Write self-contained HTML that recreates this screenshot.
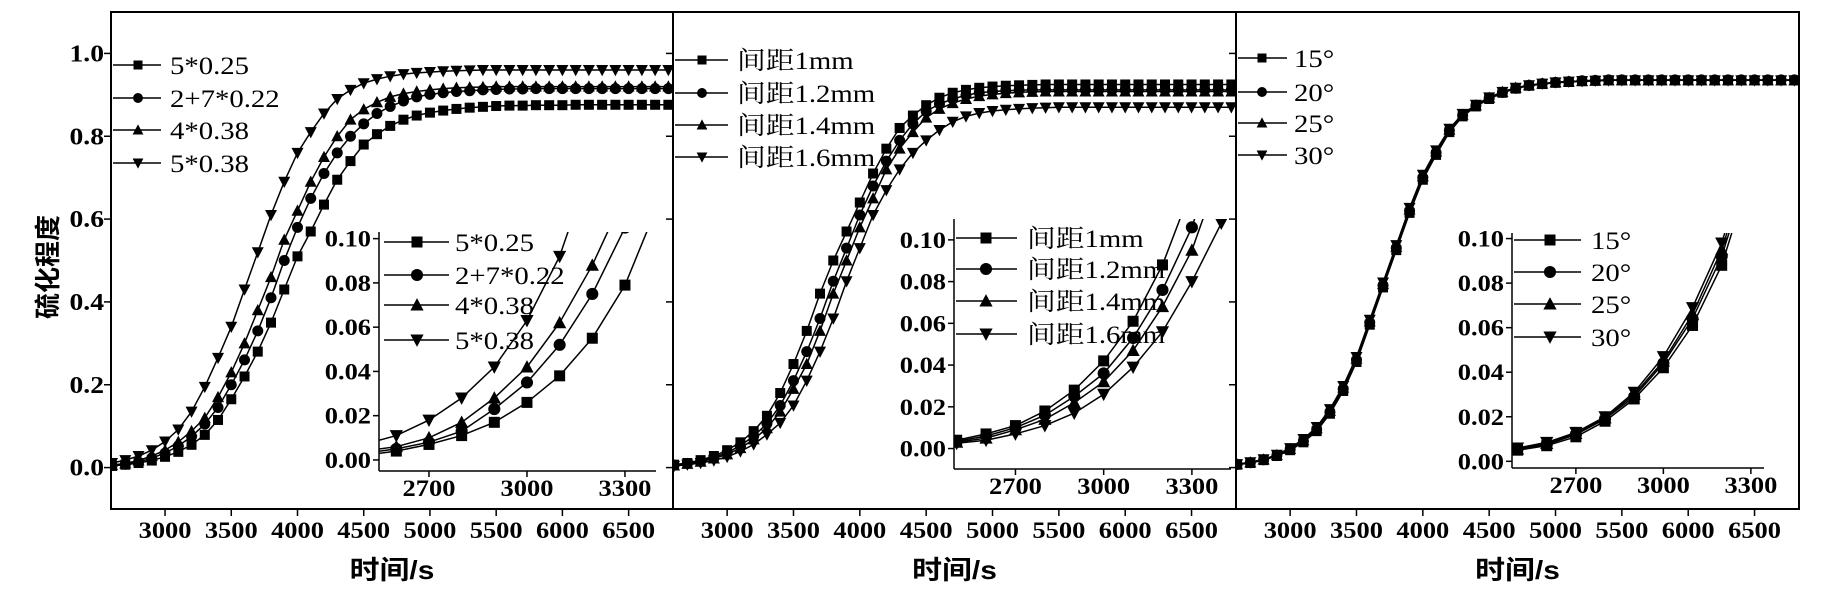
<!DOCTYPE html>
<html><head><meta charset="utf-8"><style>
html,body{margin:0;padding:0;background:#fff;}
svg{display:block;}
</style></head><body>
<svg id="chart" width="1833" height="594" viewBox="0 0 1833 594" xmlns="http://www.w3.org/2000/svg"></svg>
<script>
const times=[2500,2600,2700,2800,2900,3000,3100,3200,3300,3400,3500,3600,3700,3800,3900,4000,4100,4200,4300,4400,4500,4600,4700,4800,4900,5000,5100,5200,5300,5400,5500,5600,5700,5800,5900,6000,6100,6200,6300,6400,6500,6600,6700,6800];
const p1Names=["5*0.25","2+7*0.22","4*0.38","5*0.38"];
const p1A=[.002,.004,.007,.011,.017,.026,.038,.055,.079,.115,.165,.22,.28,.35,.43,.51,.57,.635,.695,.74,.78,.805,.825,.84,.85,.857,.862,.866,.869,.871,.873,.874,.874,.875,.875,.875,.876,.876,.876,.876,.876,.876,.876,.876];
const p1B=[.003,.005,.008,.013,.023,.035,.052,.075,.105,.145,.20,.26,.33,.41,.50,.58,.65,.71,.76,.80,.83,.855,.872,.885,.895,.901,.905,.908,.91,.912,.913,.914,.914,.915,.915,.915,.915,.915,.915,.915,.915,.915,.915,.915];
const p1C=[.004,.006,.010,.017,.028,.042,.062,.088,.12,.17,.23,.30,.38,.46,.55,.62,.69,.75,.80,.84,.865,.882,.895,.903,.908,.912,.915,.917,.918,.919,.92,.92,.92,.92,.92,.92,.92,.92,.92,.92,.92,.92,.92,.92];
const p1D=[.007,.011,.018,.028,.042,.063,.092,.135,.195,.265,.34,.43,.52,.61,.69,.76,.81,.855,.89,.912,.928,.938,.945,.95,.953,.955,.957,.958,.959,.96,.96,.96,.96,.96,.96,.96,.96,.96,.96,.96,.96,.96,.96,.96];
const p2Names=["间距1mm","间距1.2mm","间距1.4mm","间距1.6mm"];
const p2A=[.004,.007,.011,.018,.028,.042,.061,.088,.125,.18,.25,.33,.42,.50,.57,.64,.71,.77,.82,.85,.875,.893,.905,.912,.917,.92,.922,.923,.924,.925,.925,.925,.925,.925,.925,.925,.925,.925,.925,.925,.925,.925,.925,.925];
const p2B=[.0035,.006,.010,.016,.025,.036,.053,.076,.106,.15,.21,.28,.36,.45,.53,.61,.68,.74,.79,.83,.86,.878,.89,.899,.905,.908,.91,.911,.912,.912,.912,.912,.912,.912,.912,.912,.912,.912,.912,.912,.912,.912,.912,.912];
const p2C=[.003,.005,.009,.014,.022,.032,.047,.068,.095,.135,.19,.25,.33,.42,.50,.58,.65,.72,.77,.81,.845,.866,.88,.89,.897,.901,.904,.906,.907,.908,.908,.908,.908,.908,.908,.908,.908,.908,.908,.908,.908,.908,.908,.908];
const p2D=[.0025,.004,.007,.011,.017,.026,.039,.056,.080,.108,.15,.21,.28,.36,.45,.53,.61,.67,.72,.76,.79,.815,.835,.848,.856,.861,.864,.866,.868,.869,.87,.87,.87,.87,.87,.87,.87,.87,.87,.87,.87,.87,.87,.87];
const p3Names=["15°","20°","25°","30°"];
const p3A=[.005,.007,.011,.018,.028,.042,.061,.088,.13,.185,.255,.345,.435,.525,.615,.695,.755,.81,.848,.872,.89,.905,.915,.922,.926,.929,.931,.933,.934,.935,.935,.935,.935,.935,.935,.935,.935,.935,.935,.935,.935,.935,.935,.935];
const p3B=[.0055,.0075,.012,.019,.029,.044,.064,.092,.134,.19,.26,.35,.44,.53,.62,.70,.76,.814,.85,.874,.892,.906,.916,.923,.927,.93,.932,.934,.935,.936,.936,.936,.936,.936,.936,.936,.936,.936,.936,.936,.936,.936,.936,.936];
const p3C=[.0055,.008,.0125,.0195,.030,.045,.066,.095,.137,.193,.263,.353,.443,.533,.623,.703,.763,.816,.852,.875,.893,.907,.917,.923,.927,.93,.932,.933,.934,.935,.935,.935,.935,.935,.935,.935,.935,.935,.935,.935,.935,.935,.935,.935];
const p3D=[.006,.0085,.013,.020,.031,.047,.069,.098,.141,.197,.267,.357,.447,.537,.627,.707,.766,.818,.854,.876,.894,.907,.917,.923,.927,.93,.932,.933,.934,.935,.935,.935,.935,.935,.935,.935,.935,.935,.935,.935,.935,.935,.935,.935];
const mainYTicks=["0.0","0.2","0.4","0.6","0.8","1.0"];
const mainXTicks=[3000,3500,4000,4500,5000,5500,6000,6500];
const insetYTicks=["0.00","0.02","0.04","0.06","0.08","0.10"];
const insetXTicks=[2700,3000,3300];

const NS="http://www.w3.org/2000/svg";
const svg=document.getElementById('chart');
const SERIF='"Liberation Serif","Noto Serif CJK SC",serif';
const SANS='"Liberation Sans","Noto Sans CJK SC",sans-serif';
function el(tag,attrs,parent){const e=document.createElementNS(NS,tag);for(const k in attrs)e.setAttribute(k,attrs[k]);(parent||svg).appendChild(e);return e;}
function txt(s,x,y,size,weight,anchor,family,parent){
  const t=el('text',{transform:`translate(${x},${y}) scale(1.15,1)`,'font-size':size,'font-weight':weight,'text-anchor':anchor,'font-family':family,fill:'#000'},parent);
  t.textContent=s;return t;}
function marker(shape,x,y,r,parent){
  let m;
  if(shape===0)m=el('rect',{x:x-r,y:y-r,width:2*r,height:2*r,fill:'#000'},parent);
  else if(shape===1)m=el('circle',{cx:x,cy:y,r:r*1.1,fill:'#000'},parent);
  else if(shape===2)m=el('polygon',{points:`${x},${y-r*1.25} ${x-r*1.2},${y+r} ${x+r*1.2},${y+r}`,fill:'#000'},parent);
  else m=el('polygon',{points:`${x},${y+r*1.25} ${x-r*1.2},${y-r} ${x+r*1.2},${y-r}`,fill:'#000'},parent);
  return m;}

const panels=[
 {x0:111,x1:673,names:p1Names,series:[p1A,p1B,p1C,p1D],yLabels:true,
  leg:{lx0:113,lx1:161,mx:138,tx:170,ys:[65,98,130,163]},
  inset:{x0:379,x1:656,y0:232,y1:471,xd:[2547,3395],yd:[-0.005,0.103],leg:{lx0:384,lx1:449,mx:417,tx:455,ys:[242,275,305,340]}}},
 {x0:673,x1:1236,names:p2Names,series:[p2A,p2B,p2C,p2D],yLabels:false,
  leg:{lx0:675,lx1:728,mx:702,tx:737,ys:[60,93,125,157]},
  inset:{x0:954,x1:1231,y0:219,y1:469,xd:[2491,3433],yd:[-0.0098,0.110],leg:{lx0:956,lx1:1017,mx:986,tx:1027,ys:[238,269,301,334]}}},
 {x0:1236,x1:1799,names:p3Names,series:[p3A,p3B,p3C,p3D],yLabels:false,
  leg:{lx0:1238,lx1:1287,mx:1262,tx:1294,ys:[58,92,123,155]},
  inset:{x0:1512,x1:1764,y0:233,y1:468,xd:[2481,3345],yd:[-0.003,0.1025],leg:{lx0:1514,lx1:1581,mx:1550,tx:1591,ys:[240,272,304,337]}}}
];
const Y0=12,Y1=509,XD=[2592,6835],YD=[-0.1,1.1];

panels.forEach((p,pi)=>{
  const g=el('g',{});
  
  
  const sx=v=>p.x0+(v-XD[0])/(XD[1]-XD[0])*(p.x1-p.x0);
  const sy=v=>Y1-(v-YD[0])/(YD[1]-YD[0])*(Y1-Y0);
  const cid='clip'+pi;
  const cp=el('clipPath',{id:cid},g);el('rect',{x:p.x0,y:Y0,width:p.x1-p.x0,height:Y1-Y0},cp);
  mainYTicks.forEach(s=>{const v=parseFloat(s);const y=sy(v);
    el('line',{x1:p.x0-7,x2:p.x0,y1:y,y2:y,stroke:'#000','stroke-width':1.5},g);
    if(p.yLabels){const t=txt(s,104,y+8,24,'bold','end',SERIF,g);
      
      }});
  mainXTicks.forEach(v=>{const x=sx(v);
    el('line',{x1:x,x2:x,y1:Y1,y2:Y1+7,stroke:'#000','stroke-width':1.5},g);
    const t=txt(String(v),x,538,23,'bold','middle',SERIF,g);
    
    });
  const xt=txt('时间/s',(p.x0+p.x1)/2,579,26,'bold','middle',SANS,g);
  
  
  const sg=el('g',{'clip-path':`url(#${cid})`},g);
  p.series.forEach((arr,si)=>{
    const pts=arr.map((v,i)=>`${sx(times[i]).toFixed(1)},${sy(v).toFixed(1)}`).join(' ');
    const pl=el('polyline',{points:pts,fill:'none',stroke:'#000','stroke-width':1.5},sg);
    
    
    arr.forEach((v,i)=>{const m=marker(si,sx(times[i]),sy(v),5,sg);
      
      });
  });
  p.names.forEach((n,si)=>{const y=p.leg.ys[si];
    const lg=el('g',{},g);
    
    
    el('line',{x1:p.leg.lx0,x2:p.leg.lx1,y1:y,y2:y,stroke:'#000','stroke-width':1.5},lg);
    marker(si,p.leg.mx,y,4.5,lg);
    txt(n,p.leg.tx,y+9,25,'normal','start',SERIF,lg);});
  el('rect',{x:p.x0,y:Y0,width:p.x1-p.x0,height:Y1-Y0,fill:'none',stroke:'#000','stroke-width':2},g);
  const q=p.inset;
  const ig=el('g',{},g);
  
  
  const ix=v=>q.x0+(v-q.xd[0])/(q.xd[1]-q.xd[0])*(q.x1-q.x0);
  const iy=v=>q.y1-(v-q.yd[0])/(q.yd[1]-q.yd[0])*(q.y1-q.y0);
  const icid='iclip'+pi;
  const icp=el('clipPath',{id:icid},ig);el('rect',{x:q.x0,y:q.y0,width:q.x1-q.x0,height:q.y1-q.y0},icp);
  el('rect',{x:q.x0,y:q.y0,width:q.x1-q.x0,height:q.y1-q.y0,fill:'#fff'},ig);
  insetYTicks.forEach(s=>{const y=iy(parseFloat(s));
    el('line',{x1:q.x0-6,x2:q.x0,y1:y,y2:y,stroke:'#000','stroke-width':1.5},ig);
    txt(s,q.x0-8,y+8,23,'bold','end',SERIF,ig);});
  insetXTicks.forEach(v=>{const x=ix(v);
    el('line',{x1:x,x2:x,y1:q.y1,y2:q.y1+6,stroke:'#000','stroke-width':1.5},ig);
    txt(String(v),x,q.y1+25,23,'bold','middle',SERIF,ig);});
  p.names.forEach((n,si)=>{const y=q.leg.ys[si];
    const lg=el('g',{},ig);
    
    
    el('line',{x1:q.leg.lx0,x2:q.leg.lx1,y1:y,y2:y,stroke:'#000','stroke-width':1.5},lg);
    marker(si,q.leg.mx,y,5.5,lg);
    txt(n,q.leg.tx,y+9,25,'normal','start',SERIF,lg);});
  const isg=el('g',{'clip-path':`url(#${icid})`},ig);
  p.series.forEach((arr,si)=>{
    const pts=arr.map((v,i)=>`${ix(times[i]).toFixed(1)},${iy(v).toFixed(1)}`).join(' ');
    const pl=el('polyline',{points:pts,fill:'none',stroke:'#000','stroke-width':1.5},isg);
    
    
    arr.forEach((v,i)=>{const m=marker(si,ix(times[i]),iy(v),5.5,isg);
      
      });
  });
  el('line',{x1:q.x0,x2:q.x0,y1:q.y0,y2:q.y1,stroke:'#000','stroke-width':1.5},ig);
  el('line',{x1:q.x0,x2:q.x1,y1:q.y1,y2:q.y1,stroke:'#000','stroke-width':1.5},ig);
});
const yt=el('text',{transform:'translate(57,267) rotate(-90)','font-size':26,'font-weight':'bold','text-anchor':'middle','font-family':SANS,fill:'#000'});
yt.textContent='硫化程度';


</script>
</body></html>
